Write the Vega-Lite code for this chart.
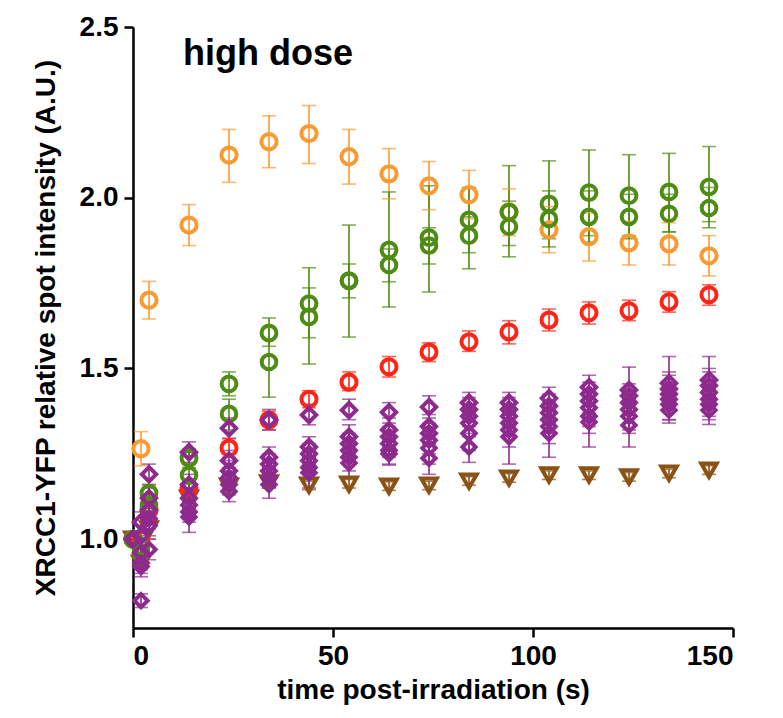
{
  "$schema": "https://vega.github.io/schema/vega-lite/v6.json",
  "width": 600,
  "height": 601,
  "autosize": "none",
  "padding": {"left": 133, "top": 27, "right": 50, "bottom": 90},
  "background": "white",
  "config": {
    "view": {"stroke": null},
    "font": "Liberation Sans",
    "axis": {
      "domainColor": "black", "domainWidth": 2.5, "tickColor": "black", "tickWidth": 2.5, "tickSize": 9,
      "grid": false, "labelFont": "Liberation Sans", "labelFontWeight": "bold", "labelFontSize": 28,
      "labelColor": "black", "titleFont": "Liberation Sans", "titleFontWeight": "bold", "titleFontSize": 28,
      "titleColor": "black"
    }
  },
  "datasets": {
    "main": [
      {"s":"B","t":0,"v":1.0,"lo":1.0,"hi":1.0},
      {"s":"B","t":2,"v":0.93,"lo":0.91,"hi":0.95},
      {"s":"B","t":4,"v":1.03,"lo":1.0,"hi":1.06},
      {"s":"B","t":14,"v":1.12,"lo":1.1,"hi":1.14},
      {"s":"B","t":24,"v":1.155,"lo":1.14,"hi":1.17},
      {"s":"B","t":34,"v":1.165,"lo":1.15,"hi":1.18},
      {"s":"B","t":44,"v":1.158,"lo":1.145,"hi":1.17},
      {"s":"B","t":54,"v":1.161,"lo":1.15,"hi":1.175},
      {"s":"B","t":64,"v":1.155,"lo":1.143,"hi":1.168},
      {"s":"B","t":74,"v":1.158,"lo":1.145,"hi":1.17},
      {"s":"B","t":84,"v":1.17,"lo":1.158,"hi":1.183},
      {"s":"B","t":94,"v":1.179,"lo":1.167,"hi":1.192},
      {"s":"B","t":104,"v":1.188,"lo":1.175,"hi":1.2},
      {"s":"B","t":114,"v":1.188,"lo":1.175,"hi":1.2},
      {"s":"B","t":124,"v":1.182,"lo":1.17,"hi":1.195},
      {"s":"B","t":134,"v":1.193,"lo":1.18,"hi":1.205},
      {"s":"B","t":144,"v":1.202,"lo":1.19,"hi":1.215},

      {"s":"O","t":0,"v":1.0,"lo":1.0,"hi":1.0},
      {"s":"O","t":2,"v":1.265,"lo":1.215,"hi":1.315},
      {"s":"O","t":4,"v":1.7,"lo":1.645,"hi":1.755},
      {"s":"O","t":14,"v":1.92,"lo":1.86,"hi":1.98},
      {"s":"O","t":24,"v":2.125,"lo":2.045,"hi":2.2},
      {"s":"O","t":34,"v":2.164,"lo":2.088,"hi":2.24},
      {"s":"O","t":44,"v":2.188,"lo":2.1,"hi":2.27},
      {"s":"O","t":54,"v":2.12,"lo":2.04,"hi":2.2},
      {"s":"O","t":64,"v":2.07,"lo":1.997,"hi":2.144},
      {"s":"O","t":74,"v":2.035,"lo":1.965,"hi":2.106},
      {"s":"O","t":84,"v":2.009,"lo":1.938,"hi":2.08},
      {"s":"O","t":94,"v":1.959,"lo":1.889,"hi":2.026},
      {"s":"O","t":104,"v":1.906,"lo":1.839,"hi":1.974},
      {"s":"O","t":114,"v":1.886,"lo":1.815,"hi":1.955},
      {"s":"O","t":124,"v":1.868,"lo":1.803,"hi":1.93},
      {"s":"O","t":134,"v":1.865,"lo":1.803,"hi":1.927},
      {"s":"O","t":144,"v":1.83,"lo":1.771,"hi":1.889},

      {"s":"R","t":0,"v":1.0,"lo":1.0,"hi":1.0},
      {"s":"R","t":2,"v":1.0,"lo":0.98,"hi":1.02},
      {"s":"R","t":4,"v":1.085,"lo":1.06,"hi":1.11},
      {"s":"R","t":14,"v":1.15,"lo":1.125,"hi":1.175},
      {"s":"R","t":24,"v":1.267,"lo":1.24,"hi":1.295},
      {"s":"R","t":34,"v":1.349,"lo":1.32,"hi":1.375},
      {"s":"R","t":44,"v":1.41,"lo":1.385,"hi":1.435},
      {"s":"R","t":54,"v":1.46,"lo":1.435,"hi":1.49},
      {"s":"R","t":64,"v":1.505,"lo":1.475,"hi":1.535},
      {"s":"R","t":74,"v":1.548,"lo":1.52,"hi":1.575},
      {"s":"R","t":84,"v":1.578,"lo":1.55,"hi":1.61},
      {"s":"R","t":94,"v":1.607,"lo":1.572,"hi":1.64},
      {"s":"R","t":104,"v":1.642,"lo":1.61,"hi":1.674},
      {"s":"R","t":114,"v":1.663,"lo":1.63,"hi":1.695},
      {"s":"R","t":124,"v":1.669,"lo":1.64,"hi":1.7},
      {"s":"R","t":134,"v":1.695,"lo":1.665,"hi":1.725},
      {"s":"R","t":144,"v":1.716,"lo":1.685,"hi":1.745},

      {"s":"GA","t":0,"v":1.0,"lo":1.0,"hi":1.0},
      {"s":"GA","t":2,"v":0.98,"lo":0.96,"hi":1.0},
      {"s":"GA","t":4,"v":1.135,"lo":1.11,"hi":1.16},
      {"s":"GA","t":14,"v":1.237,"lo":1.21,"hi":1.265},
      {"s":"GA","t":24,"v":1.455,"lo":1.42,"hi":1.49},
      {"s":"GA","t":34,"v":1.604,"lo":1.565,"hi":1.648},
      {"s":"GA","t":44,"v":1.69,"lo":1.59,"hi":1.795},
      {"s":"GA","t":54,"v":1.757,"lo":1.592,"hi":1.92},
      {"s":"GA","t":64,"v":1.847,"lo":1.68,"hi":2.017},
      {"s":"GA","t":74,"v":1.883,"lo":1.724,"hi":2.035},
      {"s":"GA","t":84,"v":1.935,"lo":1.839,"hi":2.03},
      {"s":"GA","t":94,"v":1.958,"lo":1.86,"hi":2.094},
      {"s":"GA","t":104,"v":1.982,"lo":1.88,"hi":2.108},
      {"s":"GA","t":114,"v":2.015,"lo":1.889,"hi":2.14},
      {"s":"GA","t":124,"v":2.006,"lo":1.889,"hi":2.126},
      {"s":"GA","t":134,"v":2.017,"lo":1.9,"hi":2.13},
      {"s":"GA","t":144,"v":2.032,"lo":1.912,"hi":2.15},

      {"s":"GB","t":0,"v":1.0,"lo":1.0,"hi":1.0},
      {"s":"GB","t":2,"v":0.96,"lo":0.94,"hi":0.98},
      {"s":"GB","t":4,"v":1.1,"lo":1.07,"hi":1.13},
      {"s":"GB","t":14,"v":1.188,"lo":1.16,"hi":1.22},
      {"s":"GB","t":24,"v":1.367,"lo":1.32,"hi":1.41},
      {"s":"GB","t":34,"v":1.519,"lo":1.416,"hi":1.62},
      {"s":"GB","t":44,"v":1.651,"lo":1.513,"hi":1.736},
      {"s":"GB","t":54,"v":1.757,"lo":1.707,"hi":1.806},
      {"s":"GB","t":64,"v":1.803,"lo":1.754,"hi":1.85},
      {"s":"GB","t":74,"v":1.86,"lo":1.806,"hi":1.912},
      {"s":"GB","t":84,"v":1.889,"lo":1.792,"hi":1.944},
      {"s":"GB","t":94,"v":1.915,"lo":1.827,"hi":1.99},
      {"s":"GB","t":104,"v":1.938,"lo":1.856,"hi":2.02},
      {"s":"GB","t":114,"v":1.944,"lo":1.87,"hi":2.02},
      {"s":"GB","t":124,"v":1.944,"lo":1.88,"hi":2.01},
      {"s":"GB","t":134,"v":1.953,"lo":1.9,"hi":2.01},
      {"s":"GB","t":144,"v":1.97,"lo":1.93,"hi":2.03},

      {"s":"P1","t":0,"v":1.0,"lo":1.0,"hi":1.0},
      {"s":"P1","t":2,"v":1.05,"lo":1.02,"hi":1.08},
      {"s":"P1","t":4,"v":1.19,"lo":1.16,"hi":1.22},
      {"s":"P1","t":14,"v":1.255,"lo":1.225,"hi":1.285},
      {"s":"P1","t":24,"v":1.325,"lo":1.295,"hi":1.355},
      {"s":"P1","t":34,"v":1.349,"lo":1.32,"hi":1.38},
      {"s":"P1","t":44,"v":1.364,"lo":1.335,"hi":1.395},
      {"s":"P1","t":54,"v":1.378,"lo":1.35,"hi":1.41},
      {"s":"P1","t":64,"v":1.372,"lo":1.34,"hi":1.4},
      {"s":"P1","t":74,"v":1.387,"lo":1.355,"hi":1.42},
      {"s":"P1","t":84,"v":1.4,"lo":1.37,"hi":1.43},
      {"s":"P1","t":94,"v":1.4,"lo":1.37,"hi":1.43},
      {"s":"P1","t":104,"v":1.413,"lo":1.38,"hi":1.445},
      {"s":"P1","t":114,"v":1.445,"lo":1.41,"hi":1.48},
      {"s":"P1","t":124,"v":1.437,"lo":1.4,"hi":1.504},
      {"s":"P1","t":134,"v":1.457,"lo":1.42,"hi":1.49},
      {"s":"P1","t":144,"v":1.466,"lo":1.43,"hi":1.5},

      {"s":"P2","t":0,"v":1.0,"lo":1.0,"hi":1.0},
      {"s":"P2","t":2,"v":1.01,"lo":0.98,"hi":1.04},
      {"s":"P2","t":4,"v":1.12,"lo":1.09,"hi":1.15},
      {"s":"P2","t":14,"v":1.16,"lo":1.13,"hi":1.19},
      {"s":"P2","t":24,"v":1.23,"lo":1.2,"hi":1.26},
      {"s":"P2","t":34,"v":1.24,"lo":1.21,"hi":1.27},
      {"s":"P2","t":44,"v":1.27,"lo":1.24,"hi":1.3},
      {"s":"P2","t":54,"v":1.3,"lo":1.265,"hi":1.335},
      {"s":"P2","t":64,"v":1.32,"lo":1.285,"hi":1.355},
      {"s":"P2","t":74,"v":1.33,"lo":1.295,"hi":1.365},
      {"s":"P2","t":84,"v":1.38,"lo":1.345,"hi":1.415},
      {"s":"P2","t":94,"v":1.38,"lo":1.345,"hi":1.415},
      {"s":"P2","t":104,"v":1.39,"lo":1.355,"hi":1.425},
      {"s":"P2","t":114,"v":1.425,"lo":1.39,"hi":1.46},
      {"s":"P2","t":124,"v":1.42,"lo":1.385,"hi":1.455},
      {"s":"P2","t":134,"v":1.44,"lo":1.4,"hi":1.48},
      {"s":"P2","t":144,"v":1.45,"lo":1.41,"hi":1.49},

      {"s":"P3","t":0,"v":1.0,"lo":1.0,"hi":1.0},
      {"s":"P3","t":2,"v":0.96,"lo":0.93,"hi":0.99},
      {"s":"P3","t":4,"v":1.085,"lo":1.055,"hi":1.115},
      {"s":"P3","t":14,"v":1.12,"lo":1.09,"hi":1.15},
      {"s":"P3","t":24,"v":1.2,"lo":1.17,"hi":1.23},
      {"s":"P3","t":34,"v":1.22,"lo":1.19,"hi":1.25},
      {"s":"P3","t":44,"v":1.25,"lo":1.22,"hi":1.28},
      {"s":"P3","t":54,"v":1.28,"lo":1.25,"hi":1.31},
      {"s":"P3","t":64,"v":1.3,"lo":1.27,"hi":1.33},
      {"s":"P3","t":74,"v":1.31,"lo":1.28,"hi":1.34},
      {"s":"P3","t":84,"v":1.36,"lo":1.33,"hi":1.39},
      {"s":"P3","t":94,"v":1.36,"lo":1.33,"hi":1.39},
      {"s":"P3","t":104,"v":1.37,"lo":1.34,"hi":1.4},
      {"s":"P3","t":114,"v":1.405,"lo":1.37,"hi":1.44},
      {"s":"P3","t":124,"v":1.4,"lo":1.365,"hi":1.435},
      {"s":"P3","t":134,"v":1.425,"lo":1.39,"hi":1.46},
      {"s":"P3","t":144,"v":1.43,"lo":1.395,"hi":1.465},

      {"s":"P4","t":0,"v":1.0,"lo":1.0,"hi":1.0},
      {"s":"P4","t":2,"v":0.93,"lo":0.9,"hi":0.96},
      {"s":"P4","t":4,"v":1.06,"lo":1.03,"hi":1.09},
      {"s":"P4","t":14,"v":1.1,"lo":1.07,"hi":1.13},
      {"s":"P4","t":24,"v":1.18,"lo":1.15,"hi":1.21},
      {"s":"P4","t":34,"v":1.2,"lo":1.17,"hi":1.23},
      {"s":"P4","t":44,"v":1.23,"lo":1.2,"hi":1.26},
      {"s":"P4","t":54,"v":1.26,"lo":1.225,"hi":1.295},
      {"s":"P4","t":64,"v":1.28,"lo":1.24,"hi":1.32},
      {"s":"P4","t":74,"v":1.29,"lo":1.25,"hi":1.33},
      {"s":"P4","t":84,"v":1.34,"lo":1.3,"hi":1.38},
      {"s":"P4","t":94,"v":1.34,"lo":1.3,"hi":1.38},
      {"s":"P4","t":104,"v":1.35,"lo":1.31,"hi":1.39},
      {"s":"P4","t":114,"v":1.385,"lo":1.33,"hi":1.44},
      {"s":"P4","t":124,"v":1.38,"lo":1.32,"hi":1.44},
      {"s":"P4","t":134,"v":1.41,"lo":1.35,"hi":1.535},
      {"s":"P4","t":144,"v":1.41,"lo":1.36,"hi":1.535},

      {"s":"P5","t":0,"v":1.0,"lo":1.0,"hi":1.0},
      {"s":"P5","t":2,"v":0.92,"lo":0.89,"hi":0.95},
      {"s":"P5","t":4,"v":1.04,"lo":1.01,"hi":1.07},
      {"s":"P5","t":14,"v":1.08,"lo":1.05,"hi":1.11},
      {"s":"P5","t":24,"v":1.16,"lo":1.13,"hi":1.19},
      {"s":"P5","t":34,"v":1.18,"lo":1.15,"hi":1.21},
      {"s":"P5","t":44,"v":1.21,"lo":1.18,"hi":1.24},
      {"s":"P5","t":54,"v":1.24,"lo":1.2,"hi":1.28},
      {"s":"P5","t":64,"v":1.26,"lo":1.22,"hi":1.3},
      {"s":"P5","t":74,"v":1.267,"lo":1.22,"hi":1.31},
      {"s":"P5","t":84,"v":1.31,"lo":1.26,"hi":1.36},
      {"s":"P5","t":94,"v":1.32,"lo":1.27,"hi":1.37},
      {"s":"P5","t":104,"v":1.33,"lo":1.28,"hi":1.38},
      {"s":"P5","t":114,"v":1.36,"lo":1.31,"hi":1.41},
      {"s":"P5","t":124,"v":1.36,"lo":1.31,"hi":1.41},
      {"s":"P5","t":134,"v":1.395,"lo":1.35,"hi":1.44},
      {"s":"P5","t":144,"v":1.395,"lo":1.35,"hi":1.44},

      {"s":"P6","t":0,"v":1.0,"lo":1.0,"hi":1.0},
      {"s":"P6","t":2,"v":0.82,"lo":0.8,"hi":0.84},
      {"s":"P6","t":4,"v":0.97,"lo":0.94,"hi":1.0},
      {"s":"P6","t":14,"v":1.065,"lo":1.02,"hi":1.11},
      {"s":"P6","t":24,"v":1.14,"lo":1.11,"hi":1.17},
      {"s":"P6","t":34,"v":1.16,"lo":1.12,"hi":1.2},
      {"s":"P6","t":44,"v":1.195,"lo":1.15,"hi":1.24},
      {"s":"P6","t":54,"v":1.223,"lo":1.18,"hi":1.26},
      {"s":"P6","t":64,"v":1.25,"lo":1.217,"hi":1.29},
      {"s":"P6","t":74,"v":1.237,"lo":1.19,"hi":1.28},
      {"s":"P6","t":84,"v":1.27,"lo":1.225,"hi":1.31},
      {"s":"P6","t":94,"v":1.3,"lo":1.22,"hi":1.34},
      {"s":"P6","t":104,"v":1.31,"lo":1.24,"hi":1.35},
      {"s":"P6","t":114,"v":1.343,"lo":1.27,"hi":1.42},
      {"s":"P6","t":124,"v":1.334,"lo":1.27,"hi":1.4},
      {"s":"P6","t":134,"v":1.378,"lo":1.34,"hi":1.42},
      {"s":"P6","t":144,"v":1.378,"lo":1.336,"hi":1.42}
    ],
    "label": [{"text": "high dose", "t": 12.5, "v": 2.42}]
  },
  "data": {"name": "main"},
  "layer": [
    {
      "mark": {"type": "rule", "strokeWidth": 1.6},
      "encoding": {
        "x": {"field": "t", "type": "quantitative", "scale": {"domain": [0, 150], "nice": false},
              "title": "time post-irradiation (s)",
              "axis": {"values": [0, 50, 100, 150], "labelPadding": 5, "titlePadding": 6}},
        "y": {"field": "lo", "type": "quantitative", "scale": {"domain": [0.74, 2.5], "nice": false, "zero": false},
              "title": "XRCC1-YFP relative spot intensity (A.U.)",
              "axis": {"values": [1, 1.5, 2, 2.5], "format": ".1f", "labelPadding": 6, "titlePadding": 19}},
        "y2": {"field": "hi"},
        "color": {"field": "s", "type": "nominal", "legend": null,
          "scale": {"domain": ["B","O","R","GA","GB","P1","P2","P3","P4","P5","P6"],
                    "range": ["#8A5214","#FA9A32","#FF2415","#4F8C14","#4F8C14","#8E2A8E","#8E2A8E","#8E2A8E","#8E2A8E","#8E2A8E","#8E2A8E"]}}
      }
    },
    {
      "mark": {"type": "tick", "orient": "horizontal", "size": 14, "thickness": 1.6},
      "encoding": {
        "x": {"field": "t", "type": "quantitative", "title": "time post-irradiation (s)"},
        "y": {"field": "lo", "type": "quantitative", "title": "XRCC1-YFP relative spot intensity (A.U.)"},
        "color": {"field": "s", "type": "nominal", "legend": null}
      }
    },
    {
      "mark": {"type": "tick", "orient": "horizontal", "size": 14, "thickness": 1.6},
      "encoding": {
        "x": {"field": "t", "type": "quantitative", "title": "time post-irradiation (s)"},
        "y": {"field": "hi", "type": "quantitative", "title": "XRCC1-YFP relative spot intensity (A.U.)"},
        "color": {"field": "s", "type": "nominal", "legend": null}
      }
    },
    {
      "mark": {"type": "point", "filled": false, "strokeWidth": 4, "opacity": 1},
      "encoding": {
        "x": {"field": "t", "type": "quantitative", "title": "time post-irradiation (s)"},
        "y": {"field": "v", "type": "quantitative", "title": "XRCC1-YFP relative spot intensity (A.U.)"},
        "color": {"field": "s", "type": "nominal", "legend": null},
        "shape": {"field": "s", "type": "nominal", "legend": null,
          "scale": {"domain": ["B","O","R","GA","GB","P1","P2","P3","P4","P5","P6"],
                    "range": ["triangle-down","circle","circle","circle","circle","diamond","diamond","diamond","diamond","diamond","diamond"]}},
        "size": {"field": "s", "type": "nominal", "legend": null,
          "scale": {"domain": ["B","O","R","GA","GB","P1","P2","P3","P4","P5","P6"],
                    "range": [240, 175, 175, 175, 175, 210, 210, 210, 210, 210, 210]}}
      }
    },
    {
      "data": {"name": "label"},
      "mark": {"type": "text", "align": "left", "baseline": "middle", "font": "Liberation Sans", "fontWeight": "bold", "fontSize": 36, "color": "black"},
      "encoding": {
        "x": {"field": "t", "type": "quantitative", "title": "time post-irradiation (s)"},
        "y": {"field": "v", "type": "quantitative", "title": "XRCC1-YFP relative spot intensity (A.U.)"},
        "text": {"field": "text"}
      }
    }
  ]
}
